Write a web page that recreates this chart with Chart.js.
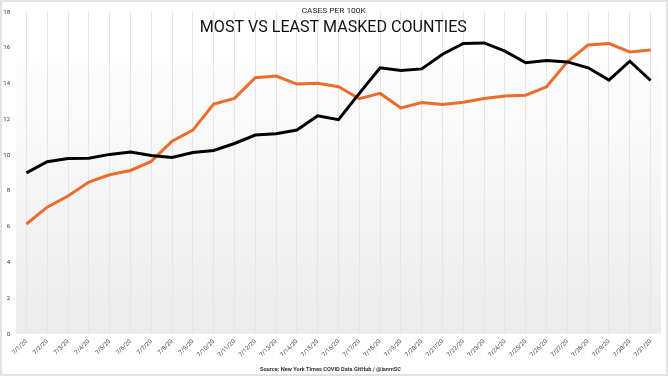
<!DOCTYPE html>
<html>
<head>
<meta charset="utf-8">
<script src="https://cdn.jsdelivr.net/npm/chart.js@4.4.1/dist/chart.umd.min.js"></script>
<style>
  html, body { margin: 0; padding: 0; background: #ffffff; }
  #wrap { width: 668px; height: 376px; position: relative; }
</style>
</head>
<body>
<div id="wrap"><canvas id="c" width="668" height="376"></canvas></div>
<script>
const dates = ["7/1/20","7/2/20","7/3/20","7/4/20","7/5/20","7/6/20","7/7/20","7/8/20","7/9/20","7/10/20",
  "7/11/20","7/12/20","7/13/20","7/14/20","7/15/20","7/16/20","7/17/20","7/18/20","7/19/20","7/20/20",
  "7/21/20","7/22/20","7/23/20","7/24/20","7/25/20","7/26/20","7/27/20","7/28/20","7/29/20","7/30/20","7/31/20"];
const blackSeries = [9.01, 9.63, 9.81, 9.83, 10.04, 10.17, 9.98, 9.87, 10.15, 10.26,
  10.65, 11.12, 11.19, 11.40, 12.20, 11.98, 13.45, 14.88, 14.73, 14.82,
  15.64, 16.24, 16.27, 15.81, 15.16, 15.29, 15.21, 14.88, 14.19, 15.25, 14.17];
const orangeSeries = [6.15, 7.09, 7.71, 8.49, 8.90, 9.14, 9.65, 10.78, 11.40, 12.85,
  13.17, 14.33, 14.42, 13.97, 14.02, 13.82, 13.15, 13.45, 12.64, 12.94,
  12.83, 12.96, 13.17, 13.30, 13.35, 13.82, 15.21, 16.16, 16.24, 15.77, 15.87];
const yTicks = [0, 2, 4, 6, 8, 10, 12, 14, 16, 18];
const subtitleText = "CASES PER 100K";
const titleText = "MOST VS LEAST MASKED COUNTIES";
const sourceText = "Source: New York Times COVID Data GitHub / @ianmSC";

function fitText(ctx, text, cx, cy, targetW) {
  const w = ctx.measureText(text).width;
  const s = targetW / w;
  ctx.save();
  ctx.translate(cx, cy);
  ctx.scale(s, 1);
  ctx.textAlign = 'center';
  ctx.textBaseline = 'middle';
  ctx.fillText(text, 0, 0);
  ctx.restore();
}

const decor = {
  id: 'decor',
  beforeDraw(chart) {
    const ctx = chart.ctx;
    const a = chart.chartArea;
    ctx.save();
    const top = 62;
    const g = ctx.createLinearGradient(0, top, 0, a.bottom);
    g.addColorStop(0, '#fdfdfd');
    g.addColorStop(1, '#ececec');
    ctx.fillStyle = g;
    ctx.fillRect(a.left, top, a.right - a.left, a.bottom - top);
    ctx.restore();
  },
  afterDraw(chart) {
    const ctx = chart.ctx;
    ctx.save();
    ctx.fillStyle = '#1a1a1a';
    ctx.font = '8px Roboto';
    fitText(ctx, subtitleText, 333.7, 11, 64);
    ctx.fillStyle = '#111111';
    ctx.font = '17px Roboto';
    fitText(ctx, titleText, 333.3, 27.5, 267);
    ctx.fillStyle = '#333333';
    ctx.font = 'bold 6px Roboto';
    fitText(ctx, sourceText, 330.5, 369, 141);
    ctx.strokeStyle = '#e2e2e2';
    ctx.lineWidth = 2;
    ctx.strokeRect(1, 1, 666, 374);
    ctx.restore();
  }
};

new Chart(document.getElementById('c'), {
  type: 'line',
  data: {
    labels: dates,
    datasets: [
      { label: 'Most masked', data: blackSeries, borderColor: '#000000', borderWidth: 3,
        pointRadius: 0, tension: 0, fill: false },
      { label: 'Least masked', data: orangeSeries, borderColor: '#ec6c2b', borderWidth: 3,
        pointRadius: 0, tension: 0, fill: false }
    ]
  },
  options: {
    responsive: false,
    animation: false,
    devicePixelRatio: 1,
    layout: { padding: { left: 0, right: 7, top: 12, bottom: 0 } },
    plugins: { legend: { display: false }, tooltip: { enabled: false }, title: { display: false } },
    scales: {
      x: {
        offset: true,
        grid: { display: true, offset: false, drawTicks: false, color: '#e6e6e6', lineWidth: 1 },
        border: { display: false },
        ticks: { autoSkip: false, minRotation: 45, maxRotation: 45, padding: 4,
          font: { family: 'Roboto', size: 6 }, color: '#444444' },
        afterFit(scale) { scale.height = 42; }
      },
      y: {
        min: 0, max: 18,
        afterBuildTicks(scale) { scale.ticks = yTicks.map(v => ({ value: v })); },
        grid: { display: false, drawTicks: false },
        border: { display: false },
        ticks: { padding: 6, font: { family: 'Roboto', size: 6 }, color: '#333333' },
        afterFit(scale) { scale.width = 16; }
      }
    }
  },
  plugins: [decor]
});
</script>
</body>
</html>
